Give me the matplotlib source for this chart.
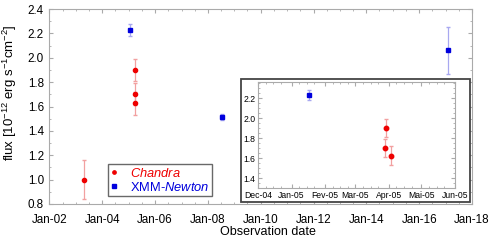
import matplotlib
matplotlib.use('Agg')
import matplotlib.pyplot as plt
import matplotlib.dates as mdates
import pandas as pd
from matplotlib.patches import Rectangle
from matplotlib.ticker import MultipleLocator

plt.rcParams['font.family'] = ['Liberation Sans', 'DejaVu Sans']
plt.rcParams['mathtext.fontset'] = 'custom'
plt.rcParams['mathtext.rm'] = 'Liberation Sans'
plt.rcParams['mathtext.it'] = 'Liberation Sans:italic'

# Dane
chandra_dates = pd.to_datetime(['2003-04-20', '2005-03-28', '2005-03-29', '2005-04-03'])
chandra_flux = [1.00, 1.70, 1.90, 1.625]
chandra_err = [0.16, 0.09, 0.09, 0.095]

xmm_dates = pd.to_datetime(['2005-01-17', '2008-07-20', '2017-02-05'])
xmm_flux = [2.23, 1.515, 2.06]
xmm_err = [0.05, 0.025, 0.19]

inset_months = {1: 'Jan', 2: 'Fev', 3: 'Mar', 4: 'Apr', 5: 'Mai', 6: 'Jun', 12: 'Dec'}

red = '#ee0000'
blue = '#0000dd'
red_err = '#f2a0a0'
blue_err = '#a8a8f0'
frame = '#aaaaaa'


def draw(ax, ms_c, ms_x, cap):
    ax.errorbar(chandra_dates, chandra_flux, yerr=chandra_err, fmt='none',
                ecolor=red_err, elinewidth=0.9, capsize=cap)
    ax.errorbar(xmm_dates, xmm_flux, yerr=xmm_err, fmt='none',
                ecolor=blue_err, elinewidth=0.9, capsize=cap)
    ax.plot(chandra_dates, chandra_flux, 'o', color=red, markersize=ms_c,
            label=r'$\it{Chandra}$')
    ax.plot(xmm_dates, xmm_flux, 's', color=blue, markersize=ms_x,
            label=r'XMM-$\it{Newton}$')
    for s in ax.spines.values():
        s.set_color(frame)
        s.set_linewidth(0.8)
    ax.tick_params(which='both', direction='in', color=frame, top=True, right=True)
    ax.tick_params(which='major', length=3)
    ax.tick_params(which='minor', length=1.5)


fig = plt.figure(figsize=(4.91, 2.44), dpi=100)
ax = fig.add_axes([0.1008, 0.164, 0.8605, 0.799])
draw(ax, 3.0, 3.0, 1.5)
ax.set_xlim(pd.Timestamp('2002-01-01'), pd.Timestamp('2018-01-01'))
ax.set_ylim(0.8, 2.4)
ax.xaxis.set_major_locator(mdates.YearLocator(2))
ax.xaxis.set_minor_locator(mdates.MonthLocator(bymonth=[1, 7]))
ax.xaxis.set_major_formatter(mdates.DateFormatter('Jan-%y'))
ax.yaxis.set_major_locator(MultipleLocator(0.2))
ax.yaxis.set_minor_locator(MultipleLocator(0.1))
ax.tick_params(axis='both', labelsize=8.4)
ax.tick_params(axis='x', pad=7)
ax.tick_params(axis='y', pad=4)
ax.set_xlabel('Observation date', fontsize=9)
ax.set_ylabel(r'flux [10$^{-12}$ erg s$^{-1}$cm$^{-2}$]', fontsize=9.5)
ax.xaxis.set_label_coords(0.518, -0.115)
ax.yaxis.set_label_coords(-0.071, 0.57)

leg = ax.legend(loc='upper left', bbox_to_anchor=(0.22, 0.328),
                bbox_transform=fig.transFigure, fontsize=9.3, frameon=True,
                fancybox=False, handlelength=0.6, handletextpad=0.9,
                borderpad=0.2, labelspacing=0.1, borderaxespad=0,
                markerscale=0.8)
leg.get_frame().set_edgecolor('#444444')
leg.get_frame().set_linewidth(1.0)
for txt, c in zip(leg.get_texts(), [red, blue]):
    txt.set_color(c)

# Wstawka
box = Rectangle((0.4908, 0.172), 0.4664, 0.504, transform=fig.transFigure,
                facecolor='white', edgecolor='#444444', linewidth=1.3, zorder=1)
fig.add_artist(box)

axi = fig.add_axes([0.5255, 0.2295, 0.401, 0.434], zorder=2)
draw(axi, 3.2, 3.0, 1.5)
axi.set_xlim(pd.Timestamp('2004-12-01'), pd.Timestamp('2005-06-01'))
axi.set_ylim(1.3, 2.36)
axi.xaxis.set_major_locator(mdates.MonthLocator())
axi.xaxis.set_minor_locator(mdates.DayLocator(bymonthday=[8, 15, 22]))
axi.xaxis.set_major_formatter(
    plt.FuncFormatter(lambda v, p: '%s-%s' % (inset_months[mdates.num2date(v).month],
                                              mdates.num2date(v).strftime('%y'))))
axi.yaxis.set_major_locator(MultipleLocator(0.2))
axi.yaxis.set_minor_locator(MultipleLocator(0.05))
axi.tick_params(labelsize=6.2, pad=2)

fig.savefig('out.png', dpi=100)
